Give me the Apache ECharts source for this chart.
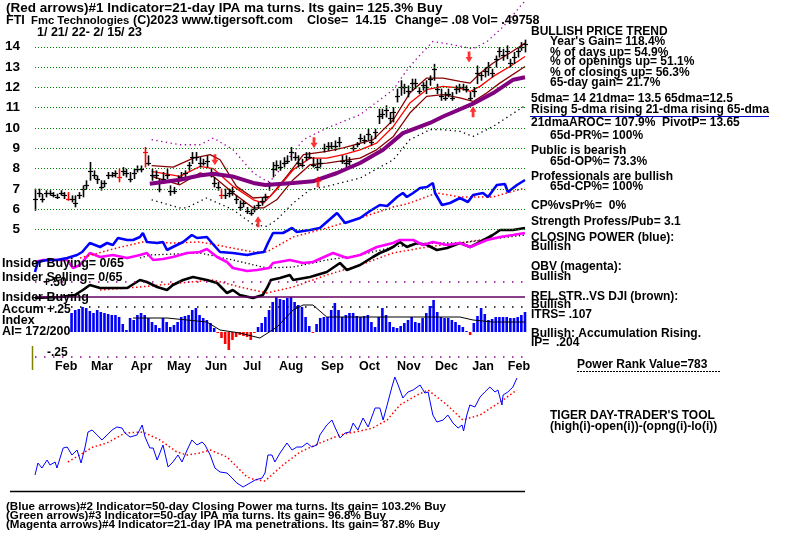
<!DOCTYPE html>
<html><head><meta charset="utf-8">
<script src="https://cdn.jsdelivr.net/npm/echarts@6/dist/echarts.min.js"></script>
<style>html,body{margin:0;padding:0;background:#fff}#c{width:800px;height:536px}</style>
</head><body><div id="c"></div><script>
// ---------- DATA ----------
const monthLabels = ['Feb','Mar','Apr','May','Jun','Jul','Aug','Sep','Oct','Nov','Dec','Jan','Feb'];
const monthPos = [5.5,15.3,26.2,36.1,46.5,56.9,66.7,78.2,88.6,99.0,109.4,119.6,129.3];
const priceTicks = [5,6,7,8,9,10,11,12,13,14];
const priceHigh = [6.97,6.97,6.72,6.89,6.89,6.80,6.72,6.89,6.80,6.80,
6.64,6.64,6.80,7.13,7.38,8.28,7.87,7.62,7.38,7.38,
7.79,7.79,7.87,7.95,8.03,7.95,7.79,7.95,8.11,8.11,
9.02,8.61,7.95,7.87,7.46,7.79,7.95,7.13,7.05,7.62,
7.79,7.87,8.28,8.77,8.77,8.52,8.44,8.61,7.95,7.54,
7.30,6.97,6.97,6.97,7.05,6.64,6.39,6.39,6.07,5.98,
6.15,6.31,6.56,6.72,7.30,8.28,8.36,8.36,8.52,8.61,
9.02,8.77,8.61,8.44,8.77,8.77,8.52,8.44,8.44,9.18,
9.26,9.26,9.34,9.51,8.61,8.61,8.52,9.10,9.26,9.67,
9.59,9.92,9.59,9.92,10.90,10.90,11.07,10.74,10.98,11.89,
12.30,12.13,12.05,12.38,12.38,11.97,12.21,12.30,12.54,13.11,
12.13,11.89,11.72,11.89,11.72,12.05,12.13,12.13,12.05,11.72,
11.97,13.03,12.70,12.95,13.20,12.87,13.52,13.93,13.85,14.02,
13.36,13.69,13.93,14.18,14.30];
const priceLow = [5.98,6.64,6.39,6.64,6.72,6.64,6.56,6.72,6.56,6.47,
6.39,6.15,6.56,6.64,7.05,7.46,7.54,7.30,6.97,7.13,
7.54,7.62,7.62,7.38,7.70,7.62,7.38,7.54,7.87,7.87,
8.11,8.20,7.46,7.54,6.89,7.30,7.54,6.72,6.80,7.30,
7.46,7.62,7.95,8.28,8.44,8.11,8.20,8.11,7.62,7.13,
6.97,6.56,6.56,6.64,6.72,6.31,5.98,6.15,5.82,5.74,
5.90,6.07,6.23,6.47,6.97,7.62,7.95,7.95,8.11,8.28,
8.44,8.44,8.11,8.11,8.44,8.52,8.11,7.95,8.11,8.85,
8.93,9.02,8.93,9.10,8.28,8.11,8.20,8.93,9.10,9.34,
9.26,9.43,9.18,9.51,10.25,10.49,10.57,10.25,10.33,11.31,
11.64,11.72,11.56,11.89,11.97,11.72,11.89,11.72,12.13,12.38,
11.72,11.39,11.39,11.56,11.39,11.72,11.80,11.89,11.80,11.39,
11.56,12.21,12.38,12.54,12.62,12.54,13.03,13.52,13.36,13.44,
13.03,13.20,13.52,13.85,13.77];
const priceClose = [6.5,6.8,6.5,6.8,6.8,6.7,6.6,6.8,6.7,6.5,
6.5,6.3,6.7,7.0,7.2,7.9,7.7,7.5,7.1,7.3,
7.7,7.7,7.8,7.6,7.9,7.8,7.5,7.8,8.0,8.0,
8.8,8.3,7.7,7.7,7.0,7.5,7.7,6.9,6.9,7.5,
7.6,7.8,8.2,8.6,8.6,8.3,8.3,8.4,7.8,7.3,
7.1,6.7,6.7,6.8,6.9,6.5,6.1,6.3,5.9,5.8,
6.0,6.2,6.4,6.6,7.2,8.0,8.2,8.1,8.3,8.4,
8.8,8.6,8.3,8.2,8.6,8.6,8.2,8.1,8.3,9.0,
9.1,9.1,9.1,9.3,8.4,8.3,8.4,9.0,9.2,9.5,
9.4,9.7,9.3,9.8,10.6,10.7,10.9,10.5,10.8,11.6,
12.0,12.0,11.8,12.2,12.2,11.8,12.1,12.0,12.4,12.9,
11.9,11.6,11.5,11.7,11.5,11.9,12.0,12.0,11.9,11.5,
11.8,12.7,12.6,12.8,13.0,12.7,13.4,13.8,13.6,13.8,
13.2,13.5,13.8,14.0,14.15];
const redBarIdx = [9,23,30,51];
const downArrows = [[49.2,8.44],[76.3,9.28],[118.7,13.5]];
const upArrows = [[61,5.39],[77.4,7.36],[119.8,10.8]];
const ma65 = [[31.4,7.26],[39.7,7.46],[45,7.67],[48.8,7.75],[54,7.62],[59.7,7.30],[63,7.2],[70.6,7.3],[76,7.38],[82.6,7.79],[88.9,8.28],[95.2,8.93],[100.6,9.75],[108,10.25],[111.6,10.57],[119.8,11.2],[125.3,11.72],[130.8,12.38],[134,12.5]];
const ma21 = [[31.9,7.87],[39.6,7.62],[45.1,8.11],[48.8,8.0],[54.2,7.13],[59.7,6.47],[62.5,6.31],[66.1,6.97],[70.6,7.95],[75.2,8.52],[79.8,8.52],[84.3,8.69],[88.9,8.93],[93.4,9.26],[98,10.08],[102.5,11.23],[107.1,11.89],[111.6,12.05],[116.2,11.97],[119,11.8],[121.7,12.05],[125.3,12.54],[129.9,13.03],[134,13.52]];
const bandUp = [[31.9,8.15],[37.8,8.08],[43.3,8.52],[47.9,8.69],[50.6,8.44],[55.1,7.13],[59.7,6.56],[62.5,6.6],[64.3,6.64],[68.8,7.62],[73.4,8.69],[79.8,8.85],[84.3,9.02],[92.5,9.43],[98,10.41],[102.5,11.72],[107.1,12.46],[111.6,12.46],[116.2,12.30],[119,12.21],[121.7,12.7],[125.3,13.2],[129.9,13.69],[134,14.18]];
const bandLo = [[31.9,7.62],[39.6,7.21],[45.1,7.79],[48.8,7.62],[54.2,6.80],[59.7,6.07],[62.5,6.07],[66.1,6.47],[70.6,7.46],[75.2,8.2],[79.8,8.28],[88.9,8.52],[93.4,8.93],[98,9.59],[102.5,10.74],[107.1,11.56],[111.6,11.64],[116.2,11.48],[119.8,11.31],[123.5,11.72],[127.1,12.21],[134,13.03]];
const envUp = [[31.9,9.43],[39.6,9.18],[45.1,9.18],[48.8,9.51],[54.2,8.93],[59.7,7.79],[63.4,7.38],[64.3,7.38],[67,7.95],[73.4,9.43],[79.8,10.0],[88.9,10.66],[98,11.89],[101.5,12.8],[104.3,13.4],[108.8,14.26],[114.3,14.1],[119.8,13.9],[123.6,14.25],[128,14.98],[132.6,15.97],[134,16.25]];
const envLo = [[31.9,6.47],[39.6,6.07],[41.4,6.07],[46.9,6.56],[54.2,5.98],[59.7,5.25],[63.4,5.16],[66.1,5.49],[70.6,6.31],[75.2,6.97],[79.8,7.13],[88.9,7.54],[98,8.44],[102.5,9.43],[108,9.92],[111.6,9.92],[116.2,9.84],[119.8,9.59],[125.3,10.08],[134,11.1]];
const closingPower = [[0,28],[0.8,38],[3.3,40],[6,40],[8.8,42],[11.5,45],[12.9,48],[15,57],[16.4,55],[17.8,53],[19.7,57],[21.3,55],[22.7,62],[25.2,60],[26.8,60],[28.7,63],[29.5,67],[30.6,58],[33.4,57],[35,58],[36.1,50],[37.7,53],[40.5,58],[42.9,65],[44.3,62],[47,63],[48.4,57],[50.6,48],[54.1,47],[58,45],[60.7,47],[62.6,48],[63.7,57],[65.1,67],[67.8,67],[70.3,72],[71.6,68],[75.2,70],[77.9,72],[82.6,87],[84.8,77],[88.9,82],[91.6,89],[94.3,95],[96.3,94],[99,103],[100.6,107],[101.7,103],[103.4,107],[105.3,112],[107.2,113],[108.8,117],[109.4,107],[111.3,95],[113.5,97],[116.2,102],[118.4,98],[119.8,105],[122.5,107],[123.9,103],[126.3,115],[128.5,116],[129.3,108],[131.8,115],[134,120]];
const closingPowerMA = [[12.3,42],[22.4,52],[29.5,58],[37.7,57],[45.1,58],[52.5,53],[59.6,48],[63.4,48],[70.6,63],[79.8,72],[88.9,82],[97.9,93],[101.7,96],[109.9,107],[116.2,103],[125.2,103],[134,112]];
const obv = [[0,38],[2.2,40],[8.8,40],[10.4,32],[12.3,35],[15,47],[17.8,43],[21.3,45],[25.2,42],[28.7,45],[30.6,47],[32.3,40],[35,41],[37.7,43],[41.6,47],[45.1,48],[47,51],[49.8,43],[52.5,38],[54.1,32],[58,29],[60.7,30],[64,32],[65.1,37],[69.7,40],[73.3,37],[76,38],[81.5,47],[85.3,42],[88.9,45],[93.5,53],[97.9,57],[99.8,60],[103.4,60],[106.1,55],[108.8,58],[112.7,55],[116.2,57],[119,53],[123.6,60],[127.2,63],[130.7,65],[134,67]];
const obvMA = [[28.7,42],[31.4,45],[45.1,47],[54.1,40],[63.4,32],[70.6,33],[79.8,40],[88.9,45],[97.9,53],[107.2,57],[116.2,57],[134,65]];
const relStr = [[0,2],[6.8,3],[10.9,5],[13.1,10],[15,15],[17.8,12],[21.3,12],[25.2,12],[28.7,20],[30.6,18],[33.4,13],[36.1,10],[37.7,15],[40.5,20],[43.2,23],[47,20],[49.8,17],[52.5,7],[54.1,10],[56,5],[59.6,2],[62.3,5],[63.6,13],[64.5,20],[67,22],[69.7,25],[70.6,20],[75.2,23],[79.8,28],[83.4,37],[85.3,30],[88.9,35],[92.4,43],[94.3,47],[96.3,50],[97.9,53],[99.8,58],[101.7,53],[104.5,57],[107.2,55],[109.9,50],[112.7,52],[116.2,57],[119,53],[121.7,58],[125.2,65],[127.2,70],[130.7,70],[134,72]];
const relStrMA = [[17.8,10],[28.7,13],[39.6,17],[48.7,20],[56,13],[63.4,7],[70.6,13],[79.8,25],[88.9,35],[97.9,47],[107.2,53],[116.2,57],[125.2,62],[134,67]];
const accum = [null,null,null,null,null,null,null,null,null,null,
.19,.22,.23,.25,.24,.21,.19,.22,.20,.19,
.18,.17,.17,.15,.08,.02,.14,.12,.17,.19,
.17,.14,.10,.07,.04,.14,.10,.05,.07,.10,
.15,.16,.17,.22,.24,.17,.14,.12,.09,.04,
-.01,-.06,-.12,-.18,-.08,-.05,-.03,-.04,-.05,-.08,
-.01,.05,.09,.15,.22,.30,.35,.33,.32,.34,
.35,.30,.27,.25,.15,.06,-.01,.08,.14,.15,
.15,.22,.29,.22,.15,.17,.19,.19,.16,.15,
.16,.17,.10,.05,.15,.24,.17,.10,.05,.04,
.06,.09,.12,.15,.10,.09,.14,.19,.26,.32,
.20,.15,.14,.14,.12,.10,.07,.05,.01,-.03,
.09,.16,.24,.18,.12,.13,.15,.15,.15,.15,
.14,.14,.15,.17,.20];
const accumMA = [[26.8,.14],[36.1,.14],[47,.10],[50.6,.02],[56,-.01],[61.5,-.06],[66.2,.05],[70.6,.22],[73.3,.27],[76,.27],[79.8,.15],[97.9,.15],[111.6,.15],[116.2,.15],[119.8,.12],[125.2,.10],[134,.10]];
const accumLevels = [0.5, 0.25, -0.25];
const insiderLevel = [0.35];
const dayTrader = [[0,15],[0.8,27],[1.9,22],[3.3,30],[4.1,25],[5.5,28],[6,22],[7.7,42],[8.8,43],[10.1,35],[11.5,40],[12.6,27],[13.7,43],[14.5,58],[15.6,60],[17,55],[18.3,50],[19.7,55],[21.1,60],[22.4,63],[23.8,62],[24.6,57],[26,53],[27.9,55],[29.3,65],[30.1,53],[31.4,42],[32.3,42],[33.4,30],[35,45],[36.4,23],[37.7,28],[39.1,35],[40.2,28],[41.6,40],[42.9,50],[44.3,45],[45.7,48],[46.5,45],[47.9,35],[49.2,22],[50.6,18],[52.5,17],[53.9,12],[55.2,7],[56.9,3],[58.8,7],[60.2,10],[62.1,12],[62.9,17],[63.7,35],[64.8,35],[65.6,28],[67,37],[68.9,47],[70.3,40],[71.6,43],[73,43],[74.4,47],[75.7,43],[77.1,45],[77.9,55],[79.8,65],[81.2,70],[82,63],[83.4,52],[84.8,57],[86.1,58],[87,67],[88.3,60],[89.7,72],[91.1,63],[93,82],[94.3,82],[95.2,70],[96.3,85],[97.6,103],[98.4,113],[99.3,105],[100.6,92],[102,98],[103.4,100],[105.3,105],[106.6,97],[107.5,98],[108.8,75],[109.9,68],[111.6,70],[112.9,75],[114.3,67],[115.7,62],[116.8,65],[117.2,59],[118.1,75],[118.9,85],[120.3,83],[121.7,93],[123,98],[124.4,103],[125.8,98],[126.6,100],[127.7,85],[128,95],[129.3,98],[130.7,103],[131.8,112]];
const dayTraderMA = [[9,28],[15.9,43],[19.7,47],[24.6,57],[29.5,58],[34.2,50],[38.8,38],[41.6,35],[45.1,37],[47.9,40],[52.5,33],[58,13],[59.6,11],[62.9,9],[67.8,25],[72.5,38],[77.9,47],[83.4,55],[88.9,59],[92.4,62],[96.3,70],[99.8,85],[104.5,95],[107.5,100],[112.7,85],[117,70],[121.7,75],[127.2,88],[131.8,100]];

// ---------- CHART ----------
const FONT = '"Liberation Sans", Arial, sans-serif';
const ohlc = priceHigh.map((h, i) => [i, h, priceLow[i], priceClose[i]]);
const accumBars = [];
accum.forEach((v, i) => { if (v !== null) accumBars.push([i, v]); });

function ln(data, xi, color, width, type, z) {
  return {type:'line', data, xAxisIndex:xi, yAxisIndex:xi, showSymbol:false, symbol:'none',
    lineStyle:{color, width, type: type || 'solid'}, z: z || 3, silent:true};
}
const F12 = 'bold 12px ' + FONT, F12b = 'bold 12.5px ' + FONT, F13 = 'bold 13.5px ' + FONT, F11 = 'bold 11.6px ' + FONT, F115 = 'bold 11.3px ' + FONT;
function T(x, y, text, font, extra) {
  return Object.assign({type:'text', x, y, z:100, silent:true,
    style:{text, font: font || F12, fill:'#000', verticalAlign:'middle', align:'left'}}, extra || {});
}
const gx = {left:35, width:490};

const option = {
  animation:false,
  backgroundColor:'#fff',
  grid:[
    Object.assign({top:0, height:229.7}, gx),
    Object.assign({top:170, height:130}, gx),
    Object.assign({top:282, height:75}, gx),
    Object.assign({top:370, height:120}, gx)
  ],
  xAxis:[
    {type:'value', gridIndex:0, min:0, max:134, show:false},
    {type:'value', gridIndex:1, min:0, max:134, show:false},
    {type:'value', gridIndex:2, min:0, max:134, axisLine:{show:false}, axisTick:{show:false}, splitLine:{show:false},
      axisLabel:{customValues: monthPos, formatter: v => monthLabels[monthPos.indexOf(v)] || '', align:'left', margin:3,
        fontFamily:FONT, fontWeight:'bold', fontSize:12.5, color:'#000'}},
    {type:'value', gridIndex:3, min:0, max:134, show:false}
  ],
  yAxis:[
    {type:'value', gridIndex:0, min:5, max:16.3, interval:1, axisLine:{show:false}, axisTick:{show:false}, splitLine:{show:false},
      axisLabel:{formatter: v => (v <= 14 && Number.isInteger(v)) ? String(v) : '', margin:15, fontFamily:FONT, fontWeight:'bold', fontSize:13.5, color:'#000'}},
    {type:'value', gridIndex:1, min:0, max:130, show:false},
    {type:'value', gridIndex:2, min:-0.25, max:0.5, show:false},
    {type:'value', gridIndex:3, min:0, max:120, show:false}
  ],
  series:[
    {type:'custom', xAxisIndex:0, yAxisIndex:0, data: ohlc, z:4, silent:true,
      renderItem:(params, api) => {
        const i = api.value(0);
        const hi = api.coord([i, api.value(1)]);
        const lo = api.coord([i, api.value(2)]);
        const cl = api.coord([i, api.value(3)]);
        const color = redBarIdx.indexOf(i) >= 0 ? '#ff0000' : '#000';
        const x = Math.round(hi[0]) + 0.5;
        const cy = Math.round(cl[1]) + 0.5;
        return {type:'group', children:[
          {type:'line', shape:{x1:x, y1:hi[1]-1, x2:x, y2:lo[1]+1}, style:{stroke:color, lineWidth:1.6}},
          {type:'line', shape:{x1:x-2.5, y1:cy, x2:x+2.5, y2:cy}, style:{stroke:color, lineWidth:1.2}}
        ]};
      },
      markLine:{silent:true, symbol:['none','none'], label:{show:false},
        lineStyle:{color:'#008000', width:1, type:[1,2]},
        data: priceTicks.map(v => ({yAxis:v}))}
    },
    ln(envUp, 0, '#990099', 1.3, [1.3,3.5]),
    ln(envLo, 0, '#000', 1.3, [1.3,3.5]),
    ln(bandUp, 0, '#8b0000', 1.3),
    ln(bandLo, 0, '#8b0000', 1.3),
    ln(ma21, 0, '#ff0000', 1.3),
    ln(ma65, 0, '#800080', 4, 'solid', 5),
    {type:'scatter', xAxisIndex:0, yAxisIndex:0, data: downArrows, z:6, silent:true,
      symbol:'path://M3,0 L7,0 L7,6 L10,6 L5,12 L0,6 L3,6 Z', symbolSize:[7,11], itemStyle:{color:'#ff0000'}},
    {type:'scatter', xAxisIndex:0, yAxisIndex:0, data: upArrows, z:6, silent:true,
      symbol:'path://M3,12 L7,12 L7,6 L10,6 L5,0 L0,6 L3,6 Z', symbolSize:[7,11], itemStyle:{color:'#ff0000'}},
    ln(relStrMA, 1, '#ff0000', 1.5, [1.5,2.5]),
    ln(relStr, 1, '#000', 2.6),
    ln(obvMA, 1, '#000', 1.3, [1.3,2.5]),
    ln(obv, 1, '#ff00ff', 2.6),
    ln(closingPowerMA, 1, '#ff0000', 1.5, [1.5,2.5]),
    ln(closingPower, 1, '#0000ff', 2.6),
    {type:'bar', xAxisIndex:2, yAxisIndex:2, data: accumBars, barWidth:2.6, silent:true, z:2,
      itemStyle:{color: p => p.value[1] < 0 ? '#ff0000' : '#0000ff'},
      markLine:{silent:true, symbol:['none','none'], label:{show:false},
        data:[
          {yAxis:accumLevels[0], lineStyle:{color:'#990099', width:1.5, type:[1.5,7.5]}},
          {yAxis:accumLevels[1], lineStyle:{color:'#000', width:1.5, type:[1.5,7.5]}},
          {yAxis:accumLevels[2], lineStyle:{color:'#990099', width:1.5, type:[1.5,7.5]}},
          {yAxis:insiderLevel[0], lineStyle:{color:'#660066', width:1.5, type:'solid'}}
        ]}},
    ln(accumMA, 2, '#000', 1, 'solid', 4),
    ln(dayTraderMA, 3, '#ff0000', 1.5, [1.5,2.5]),
    ln(dayTrader, 3, '#0000ff', 1)
  ],
  graphic:[
    T(6, 8, '(Red arrows)#1 Indicator=21-day IPA ma turns. Its gain= 125.3% Buy', F13),
    T(6, 21, 'FTI', F12b), T(31, 21, 'Fmc Technologies', F115), T(133, 21, '(C)2023 www.tigersoft.com', F12b),
    T(307, 21, 'Close=  14.15', F12b), T(395, 21, 'Change= .08', F12b), T(472, 21, 'Vol= .49758', F12b),
    T(37, 33, '1/ 21/ 22- 2/ 15/ 23', F12b),
    T(2, 264, 'Insider Buying= 0/65', F12b),
    T(43, 283, '+.50', F12),
    T(2, 277.5, 'Insider Selling= 0/65', F12b),
    T(2, 298, 'Insider Buying', F12b),
    T(2, 310, 'Accum', F12b), T(47, 310, '+.25', F12),
    T(2, 321, 'Index', F12b),
    T(2, 332, 'AI= 172/200', F12b),
    T(47, 353, '-.25', F12),
    T(531, 31.5, 'BULLISH PRICE TREND'),
    T(550, 42, "Year's Gain= 118.4%"),
    T(550, 52.5, '% of days up= 54.9%'),
    T(550, 62, '% of openings up= 51.1%'),
    T(550, 72.5, '% of closings up= 56.3%'),
    T(550, 83, '65-day gain= 21.7%'),
    T(531, 99, '5dma= 14 21dma= 13.5 65dma=12.5'),
    T(531, 110, 'Rising 5-dma rising 21-dma rising 65-dma'),
    T(531, 123, '21dmaAROC= 107.9%  PivotP= 13.65'),
    T(550, 136, '65d-PR%= 100%'),
    T(531, 150.5, 'Public is bearish'),
    T(550, 162, '65d-OP%= 73.3%'),
    T(531, 177, 'Professionals are bullish'),
    T(550, 187, '65d-CP%= 100%'),
    T(531, 205.5, 'CP%vsPr%=  0%'),
    T(531, 222, 'Strength Profess/Pub= 3.1'),
    T(531, 238, 'CLOSING POWER (blue):'),
    T(531, 247, 'Bullish'),
    T(531, 267, 'OBV (magenta):'),
    T(531, 276.5, 'Bullish'),
    T(531, 296.5, 'REL.STR..VS DJI (brown):'),
    T(531, 305, 'Bullish'),
    T(531, 314.5, 'ITRS= .107'),
    T(531, 334, 'Bullish: Accumulation Rising.'),
    T(531, 343, 'IP=  .204'),
    T(577, 364.5, 'Power Rank Value=783'),
    T(550, 415.5, "TIGER DAY-TRADER'S TOOL"),
    T(550, 426.5, '(high(i)-open(i))-(opng(i)-lo(i))'),
    T(6, 507, '(Blue arrows)#2 Indicator=50-day Closing Power ma turns. Its gain= 103.2% Buy', F11),
    T(6, 516, '(Green arrows)#3 Indicator=50-day IPA ma turns. Its gain= 96.8% Buy', F11),
    T(6, 525, '(Magenta arrows)#4 Indicator=21-day IPA ma penetrations. Its gain= 87.8% Buy', F11),
    {type:'line', z:50, silent:true, shape:{x1:530, y1:116.5, x2:769, y2:116.5}, style:{stroke:'#0000cc', lineWidth:1}},
    {type:'line', z:50, silent:true, shape:{x1:577, y1:371.5, x2:720, y2:371.5}, style:{stroke:'#000', lineWidth:1, lineDash:[2,1]}},
    {type:'line', z:50, silent:true, shape:{x1:32.5, y1:346, x2:32.5, y2:370}, style:{stroke:'#808000', lineWidth:1.5}},
    {type:'line', z:50, silent:true, shape:{x1:10, y1:491.5, x2:525, y2:491.5}, style:{stroke:'#000', lineWidth:1.5}}
  ]
};
const chart = echarts.init(document.getElementById('c'));
chart.setOption(option);
</script></body></html>
